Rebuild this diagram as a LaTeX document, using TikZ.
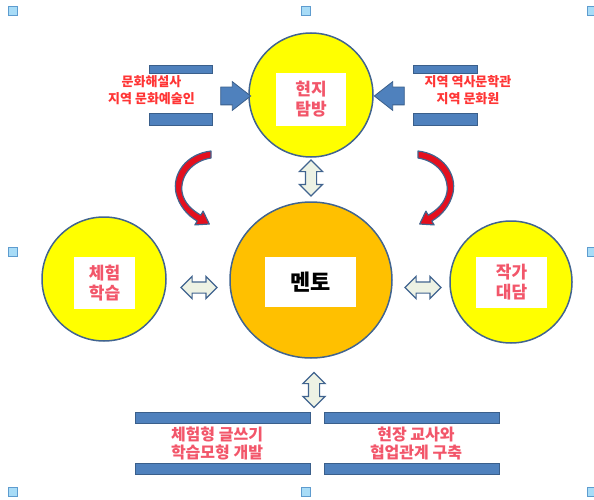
\documentclass[tikz,border=0pt]{standalone}
\usepackage{fontspec}
\setmainfont{Noto Sans CJK KR}
\usetikzlibrary{shapes.geometric,shapes.arrows}
\definecolor{edge}{HTML}{41648F}
\definecolor{bluebar}{HTML}{4F81BD}
\definecolor{barbord}{HTML}{3A5F8B}
\definecolor{yel}{HTML}{FFFF00}
\definecolor{org}{HTML}{FFC000}
\definecolor{lbl}{HTML}{F2566A}
\definecolor{sidered}{HTML}{FF3535}
\definecolor{handlefill}{HTML}{A8DCF7}
\definecolor{handleedge}{HTML}{5E9CCF}
\definecolor{arrfill}{HTML}{EDF2E4}
\definecolor{curvred}{HTML}{E3101E}
\begin{document}
\begin{tikzpicture}[x=1pt,y=-1pt,
 bubble/.style={circle, draw=edge, line width=1.5pt, fill=yel, minimum size=124pt, inner sep=0pt},
 labelbox/.style={rectangle, fill=white, inner sep=0pt, align=center, font=\bfseries\fontsize{17}{20}\selectfont, text=lbl},
 bar/.style={rectangle, fill=bluebar, draw=barbord, line width=0.8pt, inner sep=0pt},
 dbl/.style={double arrow, draw=edge, fill=arrfill, line width=1.2pt, inner xsep=0pt, inner ysep=5pt, double arrow head extend=5.5pt, minimum height=36pt},
 blk/.style={single arrow, draw=barbord, fill=bluebar, line width=0.8pt, inner xsep=0pt, inner ysep=8.5pt, single arrow head extend=5.5pt, single arrow tip angle=76, minimum height=30pt},
 handle/.style={rectangle, fill=handlefill, draw=handleedge, line width=0.8pt, minimum size=9pt, inner sep=0pt},
 sidelabel/.style={align=center, font=\bfseries\fontsize{13}{17}\selectfont, text=sidered, inner sep=0pt},
 botlabel/.style={align=center, font=\bfseries\fontsize{16}{18}\selectfont, text=lbl, inner sep=0pt},
 curved/.style={fill=curvred, draw=edge, line width=1.2pt, line join=round}]
\useasboundingbox (0,0) rectangle (594,500);

% selection handles
\node[handle] (h1) at (13,11) {};
\node[handle] (h2) at (306,11) {};
\node[handle] (h3) at (592,11) {};
\node[handle] (h4) at (13,252) {};
\node[handle] (h5) at (592,252) {};
\node[handle] (h6) at (13,492) {};
\node[handle] (h7) at (306,492) {};
\node[handle] (h8) at (592,492) {};

% circles
\node[bubble] (top) at (311,95) {};
\node[bubble] (left) at (104,279) {};
\node[bubble, minimum size=122pt] (right) at (511,282) {};
\node[ellipse, draw=edge, line width=1.5pt, fill=org, minimum width=162pt, minimum height=156pt, inner sep=0pt] (mentor) at (311,280) {};

% label boxes
\node[labelbox, minimum width=70pt, minimum height=53pt] (topl) at (311,99.5) {현지\\탐방};
\node[labelbox, minimum width=61pt, minimum height=52pt] (leftl) at (104.5,283) {체험\\학습};
\node[labelbox, minimum width=71pt, minimum height=51pt] (rightl) at (511.5,282.5) {작가\\대담};
\node[labelbox, minimum width=91pt, minimum height=50pt, text=black, font=\bfseries\fontsize{22}{24}\selectfont] (mentorl) at (310.5,282) {멘토};

% top side bars and labels
\node[bar, minimum width=63pt, minimum height=8pt] (tlb1) at (180.5,69) {};
\node[bar, minimum width=63pt, minimum height=12pt] (tlb2) at (180.5,119) {};
\node[bar, minimum width=64pt, minimum height=8pt] (trb1) at (445,69) {};
\node[bar, minimum width=64pt, minimum height=12pt] (trb2) at (445,119) {};
\node[sidelabel] (tll) at (151.5,90) {문화해설사\\지역 문화예술인};
\node[sidelabel] (trl) at (468,90) {지역 역사문학관\\지역 문화원};

% block arrows into top circle
\node[blk] (ba1) at (230,96) {};
\node[blk, shape border rotate=180] (ba2) at (395,96) {};

% double arrows
\node[dbl, rotate=90, double arrow head extend=6pt] (d1) at (311,178) {};
\node[dbl] (d2) at (199,287.5) {};
\node[dbl] (d3) at (423,287.5) {};
\node[dbl, rotate=90, minimum height=35pt] (d4) at (314,390) {};

% curved arrows
\path[curved] (211,151) .. controls (186,154) and (172,174) .. (176,193)
  .. controls (179,206) and (188,216) .. (197.2,221) -- (194.9,224.9) -- (209.3,224) -- (203.1,211.1) -- (200.8,215.2)
  .. controls (192,210) and (184,203) .. (182,192)
  .. controls (180,176) and (192,161) .. (211,158) -- cycle;
\path[curved] (418,151) .. controls (443,154) and (457,174) .. (453,193)
  .. controls (450,206) and (441,216) .. (431.8,221) -- (434.1,224.9) -- (419.7,224) -- (425.9,211.1) -- (428.2,215.2)
  .. controls (437,210) and (445,203) .. (447,192)
  .. controls (449,176) and (437,161) .. (418,158) -- cycle;

% bottom bars and labels
\node[bar, minimum width=175pt, minimum height=11pt] (blb1) at (222.5,417.5) {};
\node[bar, minimum width=175pt, minimum height=11pt] (blb2) at (222.5,468.5) {};
\node[bar, minimum width=175pt, minimum height=11pt] (brb1) at (411.5,417.5) {};
\node[bar, minimum width=175pt, minimum height=11pt] (brb2) at (411.5,468.5) {};
\node[botlabel] (bll) at (217,443) {체험형 글쓰기\\학습모형 개발};
\node[botlabel] (brl) at (416,443) {현장 교사와\\협업관계 구축};
\end{tikzpicture}
\end{document}
